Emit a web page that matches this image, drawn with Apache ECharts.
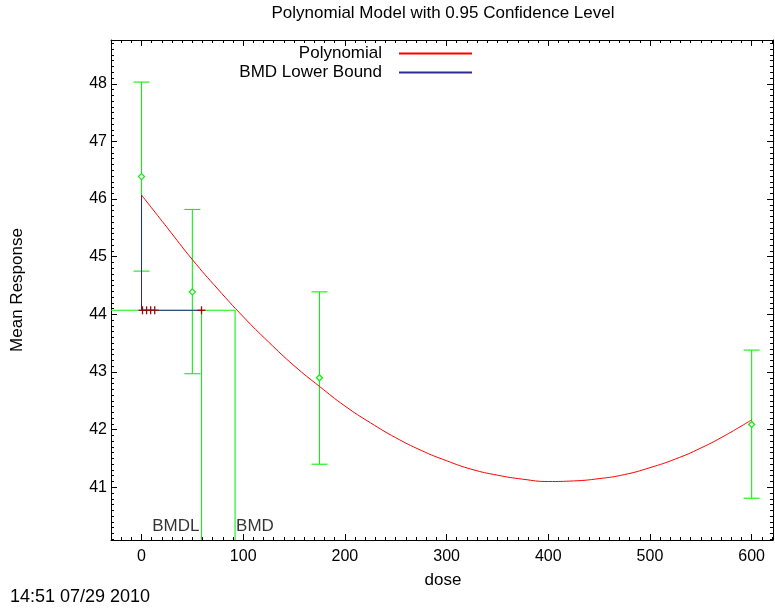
<!DOCTYPE html>
<html><head><meta charset="utf-8">
<script src="https://cdn.jsdelivr.net/npm/echarts@6/dist/echarts.min.js"></script>
<style>html,body{margin:0;padding:0;background:#fff}#c{width:775px;height:608px}</style>
</head><body><div id="c"></div>
<script>
// ---- data ----
const doses = [0, 50, 175, 600];
const means = [46.39, 44.39, 42.90, 42.09];
const lowerCI = [44.75, 42.97, 41.40, 40.81];
const upperCI = [48.03, 45.82, 44.39, 43.38];

const curveDose = [0,25,50,75,100,125,150,175,200,225,250,275,300,325,350,375,400,425,450,475,500,525,550,575,600];
const curveResp = [46.07,45.51,44.95,44.44,43.96,43.52,43.11,42.75,42.41,42.12,41.86,41.64,41.46,41.31,41.21,41.14,41.10,41.11,41.15,41.22,41.34,41.49,41.68,41.91,42.17];

const BMD = 92;
const BMDL = 59;
const BMR_LEVEL = 44.07;
const curveAtZero = 46.07;
const plusDoses = [1, 5, 9, 13, 59];

const xTicks = [0, 100, 200, 300, 400, 500, 600];
const yTicks = [41, 42, 43, 44, 45, 46, 47, 48];
const XMIN = -30, XMAX = 621, YMIN = 40.085, YMAX = 48.76;

const yMinor = [];
for (let v = 40.1; v <= 48.76; v += 0.1) yMinor.push(Math.round(v * 10) / 10);
const xMinor = [];
for (let v = -30; v <= 620; v += 10) xMinor.push(v);

const FONT = 'Liberation Sans, Arial, sans-serif';
const green = '#11ee11';

function xAxisDef(pos, ticks, len, showLine, showLabel) {
  return {
    type: 'value', position: pos, min: XMIN, max: XMAX, splitLine: {show: false},
    axisLine: {show: showLine, onZero: false, lineStyle: {color: '#000', width: 1}},
    axisTick: {show: true, inside: true, length: len, customValues: ticks, lineStyle: {color: '#000'}},
    axisLabel: {show: showLabel, customValues: ticks, color: '#000', fontSize: 16, fontFamily: FONT, margin: 9}
  };
}
function yAxisDef(pos, ticks, len, showLine, showLabel) {
  return {
    type: 'value', position: pos, min: YMIN, max: YMAX, splitLine: {show: false},
    axisLine: {show: showLine, onZero: false, lineStyle: {color: '#000', width: 1}},
    axisTick: {show: true, inside: true, length: len, customValues: ticks, lineStyle: {color: '#000'}},
    axisLabel: {show: showLabel, customValues: ticks, color: '#000', fontSize: 16, fontFamily: FONT, margin: 4,
      formatter: v => String(Math.round(v))}
  };
}

const errData = doses.map((d, i) => [d, means[i], lowerCI[i], upperCI[i]]);
const legendText = {fontSize: 17, fontFamily: FONT, color: '#000', padding: [0, 12, 0, 0]};

const option = {
  animation: false,
  backgroundColor: '#fff',
  grid: {left: 111, right: 2, top: 40, bottom: 68},
  xAxis: [
    xAxisDef('bottom', xTicks, 6, true, true),
    xAxisDef('bottom', xMinor, 3, false, false),
    xAxisDef('top', xTicks, 6, true, false),
    xAxisDef('top', xMinor, 3, false, false)
  ],
  yAxis: [
    yAxisDef('left', yTicks, 6, true, true),
    yAxisDef('left', yMinor, 3, false, false),
    yAxisDef('right', yTicks, 6, true, false),
    yAxisDef('right', yMinor, 3, false, false)
  ],
  legend: [
    {data: ['Polynomial'], right: 302, top: 45, padding: 0, orient: 'vertical', align: 'right', itemWidth: 73, itemHeight: 14,
     itemStyle: {opacity: 0}, textStyle: legendText},
    {data: ['BMD Lower Bound'], right: 302, top: 64, padding: 0, orient: 'vertical', align: 'right', itemWidth: 73, itemHeight: 14,
     itemStyle: {opacity: 0}, textStyle: legendText}
  ],
  graphic: [
    {type: 'text', x: 443, y: 13, style: {text: 'Polynomial Model with 0.95 Confidence Level', font: '17px ' + FONT, fill: '#000', align: 'center', verticalAlign: 'middle'}},
    {type: 'text', x: 443, y: 580, style: {text: 'dose', font: '17px ' + FONT, fill: '#000', align: 'center', verticalAlign: 'middle'}},
    {type: 'text', x: 17, y: 290, rotation: Math.PI / 2, style: {text: 'Mean Response', font: '17px ' + FONT, fill: '#000', align: 'center', verticalAlign: 'middle'}},
    {type: 'text', x: 10, y: 597, style: {text: '14:51 07/29 2010', font: '18px ' + FONT, fill: '#000', verticalAlign: 'middle'}}
  ],
  series: [
    {
      name: 'BMR', type: 'line', data: [[XMIN, BMR_LEVEL], [BMD, BMR_LEVEL], [BMD, YMIN]],
      symbol: 'none', lineStyle: {color: green, width: 1.1}, silent: true, z: 1
    },
    {
      name: 'BMDLline', type: 'line', data: [[BMDL, BMR_LEVEL], [BMDL, YMIN]],
      symbol: 'none', lineStyle: {color: green, width: 1.1}, silent: true, z: 1
    },
    {
      name: 'errors', type: 'custom', z: 2,
      renderItem: function (params, api) {
        const x = api.value(0);
        const c = api.coord([x, api.value(1)]);
        const lo = api.coord([x, api.value(2)]);
        const hi = api.coord([x, api.value(3)]);
        const s = {stroke: green, lineWidth: 1.1};
        return {type: 'group', children: [
          {type: 'line', shape: {x1: lo[0], y1: lo[1], x2: hi[0], y2: hi[1]}, style: s},
          {type: 'line', shape: {x1: lo[0] - 8, y1: lo[1], x2: lo[0] + 8, y2: lo[1]}, style: s},
          {type: 'line', shape: {x1: hi[0] - 8, y1: hi[1], x2: hi[0] + 8, y2: hi[1]}, style: s},
          {type: 'polygon', shape: {points: [[c[0], c[1] - 3], [c[0] + 3, c[1]], [c[0], c[1] + 3], [c[0] - 3, c[1]]]},
           style: {fill: '#fff', stroke: green, lineWidth: 1.3}}
        ]};
      },
      data: errData
    },
    {
      name: 'Polynomial', type: 'line', smooth: true, symbol: 'none', z: 3,
      data: curveDose.map((d, i) => [d, curveResp[i]]),
      lineStyle: {color: '#ff0000', width: 1}, itemStyle: {color: '#ff0000'}
    },
    {
      name: 'BMD Lower Bound', type: 'line', symbol: 'none', z: 4,
      data: [[0, curveAtZero], [0, BMR_LEVEL], [BMDL, BMR_LEVEL]],
      lineStyle: {color: '#2a2a90', width: 1}, itemStyle: {color: '#2a2a90'}
    },
    {
      name: 'plus', type: 'custom', z: 5,
      renderItem: function (params, api) {
        const p = api.coord([api.value(0), api.value(1)]);
        const s = {stroke: '#8b1010', lineWidth: 1.3};
        return {type: 'group', children: [
          {type: 'line', shape: {x1: p[0] - 4, y1: p[1], x2: p[0] + 4, y2: p[1]}, style: s},
          {type: 'line', shape: {x1: p[0], y1: p[1] - 4, x2: p[0], y2: p[1] + 4}, style: s}
        ]};
      },
      data: plusDoses.map(d => [d, BMR_LEVEL])
    },
    {
      name: 'labels', type: 'scatter', symbolSize: 0, silent: true, z: 6,
      data: [
        {value: [BMDL, 40.33], label: {show: true, formatter: 'BMDL', position: 'left', distance: 2}},
        {value: [BMD, 40.33], label: {show: true, formatter: 'BMD', position: 'right', distance: 1}}
      ],
      label: {color: '#000', fontSize: 17, fontFamily: FONT}
    }
  ]
};
const chart = echarts.init(document.getElementById('c'), null, {renderer: 'canvas'});
chart.setOption(option);
</script></body></html>
